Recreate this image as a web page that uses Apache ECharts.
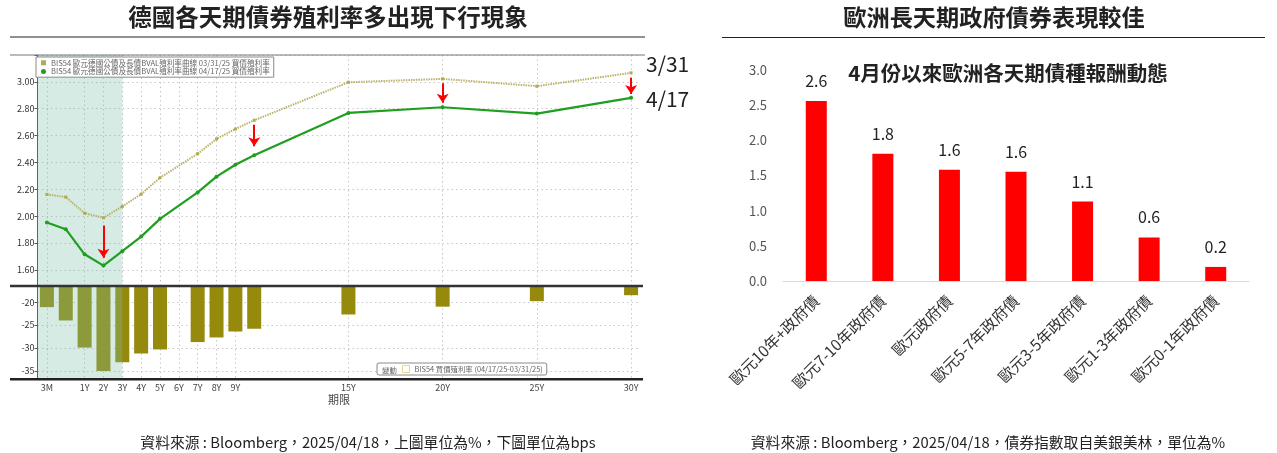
<!DOCTYPE html>
<html><head><meta charset="utf-8">
<script src="https://cdn.jsdelivr.net/npm/echarts@6/dist/echarts.min.js"></script>
<style>html,body{margin:0;padding:0;background:#fff}#c{width:1277px;height:453px}</style>
</head><body><div id="c"></div>
<script>
// ---------- Left chart data ----------
const axisCategories = ['3M','6M','1Y','2Y','3Y','4Y','5Y','6Y','7Y','8Y','9Y','10Y','11Y','12Y','13Y','14Y','15Y','16Y','17Y','18Y','19Y','20Y','21Y','22Y','23Y','24Y','25Y','26Y','27Y','28Y','29Y','30Y'];
const tickLabels = ['3M','1Y','2Y','3Y','4Y','5Y','6Y','7Y','8Y','9Y','15Y','20Y','25Y','30Y'];
const tenors = ['3M','6M','1Y','2Y','3Y','4Y','5Y','7Y','8Y','9Y','10Y','15Y','20Y','25Y','30Y'];
const yield0331 = [2.162, 2.142, 2.022, 1.988, 2.072, 2.164, 2.286, 2.465, 2.575, 2.649, 2.714, 2.997, 3.022, 2.968, 3.067];
const yield0417 = [1.953, 1.903, 1.716, 1.632, 1.739, 1.848, 1.980, 2.177, 2.294, 2.383, 2.453, 2.769, 2.811, 2.764, 2.881];
const changeBps = [-21.1, -24.0, -29.9, -35.0, -33.1, -31.2, -30.3, -28.7, -27.7, -26.4, -25.8, -22.7, -21.0, -19.8, -18.5];
const arrowTenors = ['2Y','10Y','20Y','30Y'];
const arrowFrom = [1.93, 2.68, 2.99, 3.03];
const arrowTo = [1.69, 2.52, 2.845, 2.91];
const shadeEnd = '3Y';
const name0331 = 'BIS54 歐元德國公債及長債BVAL殖利率曲線 03/31/25 買價殖利率';
const name0417 = 'BIS54 歐元德國公債及長債BVAL殖利率曲線 04/17/25 買價殖利率';
const nameChg = 'BIS54 買價殖利率 (04/17/25-03/31/25)';

// ---------- Right chart data ----------
const bondCats = ['歐元10年+政府債','歐元7-10年政府債','歐元政府債','歐元5-7年政府債','歐元3-5年政府債','歐元1-3年政府債','歐元0-1年政府債'];
const bondReturns = [2.56, 1.81, 1.58, 1.555, 1.13, 0.62, 0.20];

const FONT = '"Noto Sans CJK TC", "Noto Sans", sans-serif';
const chart = echarts.init(document.getElementById('c'), null, {renderer: 'canvas'});

const pair = (arr) => tenors.map((t, i) => [t, arr[i]]);
const showTick = (idx, val) => tickLabels.indexOf(val) >= 0;
const gridDotted = {show: true, interval: showTick, alignWithLabel: true, lineStyle: {color: '#c8c8c8', type: [1.5, 3], width: 1}};
const shadeColor = 'rgba(124,191,169,0.31)';

const xCat = (gridIndex, showLabels) => ({
  type: 'category', gridIndex, data: axisCategories, boundaryGap: true,
  axisLine: {show: false}, axisTick: {show: false, alignWithLabel: true, interval: 0},
  axisLabel: showLabels ? {show: true, interval: showTick, fontSize: 9, color: '#444', margin: 4, fontFamily: FONT} : {show: false},
  splitLine: gridDotted,
  name: showLabels ? '期限' : '', nameLocation: 'middle', nameGap: 15,
  nameTextStyle: {fontSize: 11, color: '#444', fontFamily: FONT}
});

const option = {
  backgroundColor: '#fff',
  animation: false,
  textStyle: {fontFamily: FONT},
  grid: [
    {left: 37.5, width: 603, top: 55, height: 231},
    {left: 37.5, width: 603, top: 286, height: 93.3},
    {left: 783, right: 28, top: 70, bottom: 172}
  ],
  legend: [
    {
      data: [{name: name0331, icon: 'rect'}, {name: name0417, icon: 'circle'}],
      orient: 'vertical', left: 36, top: 57, itemGap: 1, itemWidth: 5, itemHeight: 5,
      padding: [2, 4, 2, 5], borderColor: '#8a8a8a', borderWidth: 1, backgroundColor: '#fff',
      textStyle: {fontSize: 7.6, color: '#666', fontFamily: FONT}, z: 10
    },
    {
      data: [{name: nameChg, icon: 'rect', itemStyle: {color: '#fff', borderColor: '#e2d98e', borderWidth: 1}}],
      left: 377, top: 363, itemWidth: 7, itemHeight: 7, itemGap: 4,
      padding: [2, 4, 2, 25], borderColor: '#8a8a8a', borderWidth: 1, borderRadius: 2, backgroundColor: '#fff',
      textStyle: {fontSize: 7.4, color: '#666', fontFamily: FONT}, z: 10
    }
  ],
  xAxis: [
    xCat(0, false),
    xCat(1, true),
    {
      type: 'category', gridIndex: 2, data: bondCats,
      axisLine: {lineStyle: {color: '#d9d9d9', width: 1}}, axisTick: {show: false},
      axisLabel: {interval: 0, rotate: 45, fontSize: 15.5, color: '#333', margin: 17, fontFamily: FONT}
    }
  ],
  yAxis: [
    {
      type: 'value', gridIndex: 0, min: 1.48, max: 3.2, minInterval: 0.2, maxInterval: 0.2,
      axisLine: {show: true, lineStyle: {color: '#555', width: 1}},
      axisTick: {show: true, length: 3, lineStyle: {color: '#555'}},
      axisLabel: {fontSize: 9, color: '#333', margin: 3, fontFamily: FONT,
        formatter: v => (v > 1.5 && v < 3.1 && Math.abs(v * 5 - Math.round(v * 5)) < 1e-6) ? v.toFixed(2) : ''},
      splitLine: {show: true, lineStyle: {color: '#c8c8c8', type: [1.5, 3], width: 1}}
    },
    {
      type: 'value', gridIndex: 1, min: -36.8, max: -16.5, minInterval: 5, maxInterval: 5,
      axisLine: {show: true, lineStyle: {color: '#555', width: 1}},
      axisTick: {show: true, length: 3, lineStyle: {color: '#555'}},
      axisLabel: {fontSize: 9, color: '#333', margin: 3, fontFamily: FONT,
        formatter: v => (Math.abs(v % 5) < 1e-6 && v > -36.5 && v < -17) ? String(v) : ''},
      splitLine: {show: true, lineStyle: {color: '#c8c8c8', type: [1.5, 3], width: 1}}
    },
    {
      type: 'value', gridIndex: 2, min: 0, max: 3, interval: 0.5,
      axisLine: {show: false}, axisTick: {show: false}, splitLine: {show: false},
      axisLabel: {fontSize: 13, color: '#555', margin: 16, fontFamily: FONT, formatter: v => v.toFixed(1)}
    }
  ],
  series: [
    {
      name: name0331, type: 'line', xAxisIndex: 0, yAxisIndex: 0, data: pair(yield0331),
      symbol: 'rect', symbolSize: 3, color: '#b9b46a',
      lineStyle: {color: '#b9b46a', width: 2, type: [1.5, 1]},
      itemStyle: {color: '#b0aa55'},
      markArea: {silent: true, itemStyle: {color: shadeColor},
        data: [[{}, {xAxis: shadeEnd}]]},
      z: 3
    },
    {
      name: name0417, type: 'line', xAxisIndex: 0, yAxisIndex: 0, data: pair(yield0417),
      symbol: 'circle', symbolSize: 4, color: '#1f9e1f',
      lineStyle: {color: '#1f9e1f', width: 2.2}, itemStyle: {color: '#1f9e1f'},
      markLine: {
        silent: true, symbol: ['none', 'arrow'], symbolSize: [9, 9],
        lineStyle: {color: '#ff0000', width: 2, type: 'solid'}, label: {show: false},
        data: arrowTenors.map((t, i) => [{coord: [t, arrowFrom[i]]}, {coord: [t, arrowTo[i]]}])
      },
      z: 4
    },
    {
      name: nameChg, type: 'bar', xAxisIndex: 1, yAxisIndex: 1, data: pair(changeBps),
      barWidth: 14, clip: true, color: '#968a0c', itemStyle: {color: '#968a0c'},
      markArea: {silent: true, z: 5, itemStyle: {color: shadeColor},
        data: [[{}, {xAxis: shadeEnd}]]}
    },
    {
      name: 'ret', type: 'bar', xAxisIndex: 2, yAxisIndex: 2, data: bondReturns,
      barWidth: 21, itemStyle: {color: '#ff0000'},
      label: {show: true, position: 'top', distance: 12, fontSize: 16, color: '#222', fontFamily: FONT,
        formatter: p => p.value.toFixed(1)}
    }
  ],
  graphic: [
    {type: 'text', x: 328, y: 17, style: {text: '德國各天期債券殖利率多出現下行現象', font: 'bold 23.5px ' + FONT, fill: '#222', textAlign: 'center', textVerticalAlign: 'middle'}},
    {type: 'text', x: 994, y: 17, style: {text: '歐洲長天期政府債券表現較佳', font: 'bold 23.2px ' + FONT, fill: '#222', textAlign: 'center', textVerticalAlign: 'middle'}},
    {type: 'line', shape: {x1: 10, y1: 37, x2: 645, y2: 37}, style: {stroke: '#222', lineWidth: 1.2}},
    {type: 'line', shape: {x1: 722, y1: 37.5, x2: 1265, y2: 37.5}, style: {stroke: '#222', lineWidth: 1.2}},
    {type: 'line', shape: {x1: 10, y1: 55, x2: 645, y2: 55}, style: {stroke: '#777', lineWidth: 1}, z: 20},
    {type: 'line', shape: {x1: 10, y1: 286, x2: 643, y2: 286}, style: {stroke: '#333', lineWidth: 2.5}, z: 20},
    {type: 'line', shape: {x1: 10, y1: 379.3, x2: 643, y2: 379.3}, style: {stroke: '#222', lineWidth: 2.5}, z: 20},
    {type: 'text', x: 646, y: 64.5, style: {text: '3/31', font: '21px ' + FONT, fill: '#222', textVerticalAlign: 'middle'}},
    {type: 'text', x: 646, y: 99.5, style: {text: '4/17', font: '21px ' + FONT, fill: '#222', textVerticalAlign: 'middle'}},
    {type: 'text', x: 382, y: 370, z: 30, style: {text: '變動', font: '7.4px ' + FONT, fill: '#666', textVerticalAlign: 'middle'}},
    {type: 'text', x: 1008, y: 73, style: {text: '4月份以來歐洲各天期債種報酬動態', font: 'bold 20.5px ' + FONT, fill: '#222', textAlign: 'center', textVerticalAlign: 'middle'}},
    {type: 'text', x: 368, y: 442, style: {text: '資料來源 : Bloomberg，2025/04/18，上圖單位為%，下圖單位為bps', font: '14.8px ' + FONT, fill: '#222', textAlign: 'center', textVerticalAlign: 'middle'}},
    {type: 'text', x: 988, y: 442, style: {text: '資料來源 : Bloomberg，2025/04/18，債券指數取自美銀美林，單位為%', font: '14.8px ' + FONT, fill: '#222', textAlign: 'center', textVerticalAlign: 'middle'}}
  ]
};
chart.setOption(option);
</script></body></html>
